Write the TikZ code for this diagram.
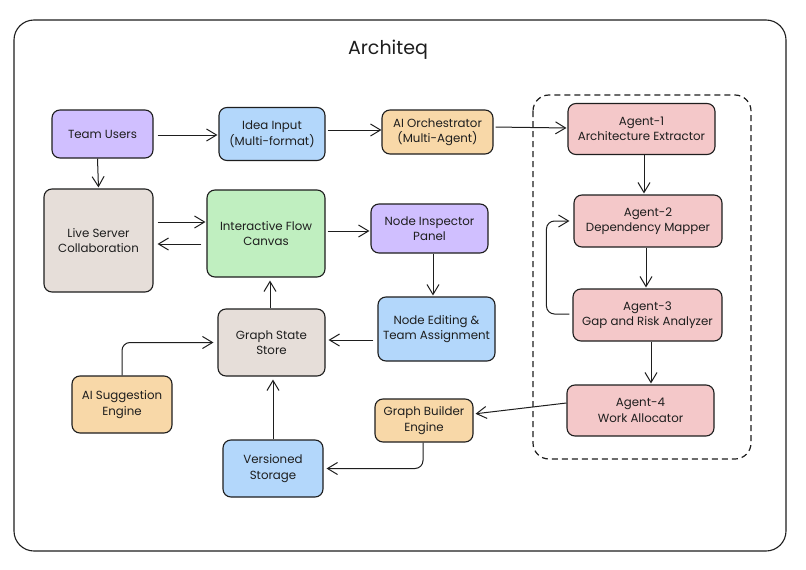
\documentclass[tikz,border=0pt]{standalone}
\usepackage{fontspec}
\setmainfont{Poppins}
\usetikzlibrary{arrows.meta}
\definecolor{linec}{HTML}{1E1E1E}
\definecolor{cpurple}{HTML}{D0BFFF}
\definecolor{cblue}{HTML}{B3D7FB}
\definecolor{corange}{HTML}{F8D8A8}
\definecolor{cgreen}{HTML}{C0EFC0}
\definecolor{cbeige}{HTML}{E6DED9}
\definecolor{cpink}{HTML}{F4C8C9}
\tikzset{
  box/.style={draw=linec, line width=1.1pt, rounded corners=8pt, align=center,
    text=linec, font=\fontsize{11.8}{15.5}\selectfont, inner sep=1pt},
  arr/.style={draw=linec, line width=1pt, -{Straight Barb[length=10pt,width=12pt,line width=1pt]}},
}
\begin{document}
\begin{tikzpicture}[x=1pt,y=-1pt]
\useasboundingbox (0,0) rectangle (806,570);
\fill[white] (0,0) rectangle (806,570);
% outer frame
\draw[linec, line width=1.1pt, rounded corners=20pt] (14,20) rectangle (786,551);
\node[text=linec, font=\fontsize{19}{22}\selectfont] (title) at (388,50) {Architeq};
% dashed container
\draw[linec, line width=1.2pt, dash pattern=on 6pt off 4pt, rounded corners=16pt] (533,95) rectangle (751,459);

% nodes
\node[box, fill=cpurple, minimum width=101pt, minimum height=48pt] (team) at (102.5,134) {Team Users};
\node[box, fill=cblue, minimum width=106pt, minimum height=53pt] (idea) at (272,134) {Idea Input\\(Multi-format)};
\node[box, fill=corange, minimum width=111pt, minimum height=44pt] (orch) at (437.5,132) {AI Orchestrator\\(Multi-Agent)};
\node[box, fill=cpink, minimum width=147pt, minimum height=51pt] (ag1) at (641.5,129) {Agent-1\\Architecture Extractor};
\node[box, fill=cbeige, minimum width=109pt, minimum height=103pt] (live) at (98.5,240.5) {Live Server\\Collaboration};
\node[box, fill=cgreen, minimum width=118pt, minimum height=87pt] (flow) at (266,233.5) {Interactive Flow\\Canvas};
\node[box, fill=cpurple, minimum width=117pt, minimum height=49pt] (insp) at (429.5,228.5) {Node Inspector\\Panel};
\node[box, fill=cpink, minimum width=148pt, minimum height=52pt] (ag2) at (648,221) {Agent-2\\Dependency Mapper};
\node[box, fill=cpink, minimum width=149pt, minimum height=52pt] (ag3) at (647.5,315) {Agent-3\\Gap and Risk Analyzer};
\node[box, fill=cblue, minimum width=117pt, minimum height=64pt] (edit) at (436.5,329) {Node Editing \&\\Team Assignment};
\node[box, fill=cbeige, minimum width=107pt, minimum height=67pt] (gss) at (271.5,342.5) {Graph State\\Store};
\node[box, fill=corange, minimum width=100pt, minimum height=57pt] (sugg) at (122,404.5) {AI Suggestion\\Engine};
\node[box, fill=corange, minimum width=98pt, minimum height=43pt] (gbe) at (424,420.5) {Graph Builder\\Engine};
\node[box, fill=cpink, minimum width=147pt, minimum height=51pt] (ag4) at (640.5,410.5) {Agent-4\\Work Allocator};
\node[box, fill=cblue, minimum width=100pt, minimum height=57pt] (vs) at (273,468.5) {Versioned\\Storage};

% connectors
\draw[arr, shorten <=4pt, shorten >=1pt] ([yshift=-1pt]team.east) -- ([yshift=-1pt]idea.west);
\draw[arr, shorten >=1pt] ([xshift=-5pt]team.south) -- (live.north);
\draw[arr, shorten <=2pt] ([yshift=4pt]idea.east) -- ([yshift=2pt]orch.west);
\draw[arr, shorten <=2pt, shorten >=1pt] ([yshift=5pt]orch.east) -- ([yshift=1pt]ag1.west);
\draw[arr, shorten <=4pt, shorten >=1pt] ([yshift=18.5pt]live.east) -- ([yshift=11.5pt]flow.west);
\draw[arr, shorten <=5pt, shorten >=4pt] ([yshift=-10.5pt]flow.west) -- ([yshift=-3.5pt]live.east);
\draw[arr, shorten <=2pt, shorten >=1pt] ([yshift=2.5pt]flow.east) -- ([yshift=-2.5pt]insp.west);
\draw[arr, shorten >=1pt] ([xshift=3.5pt]insp.south) -- ([xshift=-3.5pt]edit.north);
\draw[arr, shorten <=4pt, shorten >=3pt] ([yshift=-11pt]edit.west) -- ([yshift=2.5pt]gss.east);
\draw[arr, shorten >=3pt] ([xshift=-1.5pt]gss.north) -- ([xshift=4pt]flow.south);
\draw[arr, rounded corners=8pt, shorten >=4pt] (sugg.north) |- (gss.west);
\draw[arr, shorten >=3pt] (vs.north) -- ([xshift=1.5pt]gss.south);
\draw[arr, shorten >=1pt] ([xshift=2.5pt]ag1.south) -- ([xshift=-4pt]ag2.north);
\draw[arr, shorten >=1pt] ([xshift=-2pt]ag2.south) -- ([xshift=-1.5pt]ag3.north);
\draw[arr, shorten >=1pt] ([xshift=3.5pt]ag3.south) -- ([xshift=10.5pt]ag4.north);
\draw[arr, rounded corners=8pt, shorten <=3pt, shorten >=4pt] ([yshift=1pt]ag3.west) -- ++(-26,0) |- (ag2.west);
\draw[arr, shorten >=2pt] ([yshift=7.5pt]ag4.west) -- ([yshift=6.5pt]gbe.east);
\draw[arr, rounded corners=8pt, shorten >=3pt] ([xshift=-1pt]gbe.south) |- (vs.east);
\end{tikzpicture}
\end{document}
